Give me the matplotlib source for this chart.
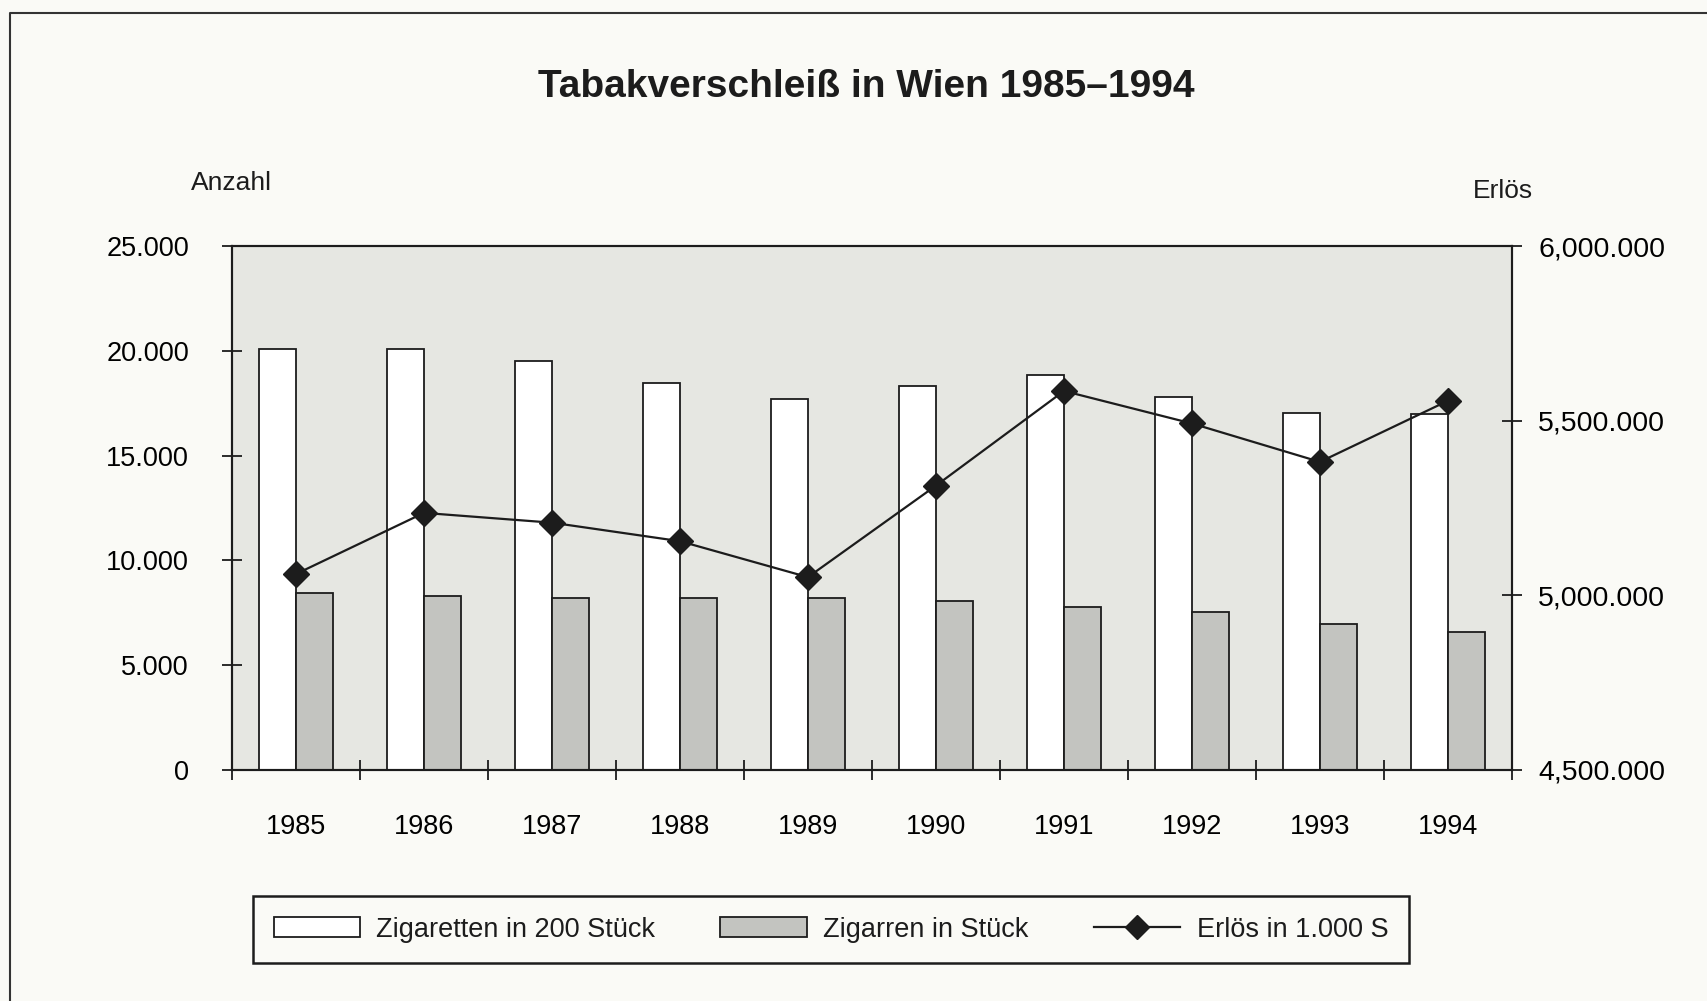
import matplotlib
matplotlib.use("Agg")
import matplotlib.pyplot as plt
import numpy as np
from matplotlib.lines import Line2D
from matplotlib.patches import Patch

# values
years = ["1985", "1986", "1987", "1988", "1989", "1990", "1991", "1992", "1993", "1994"]
zigaretten = [20100, 20100, 19500, 18450, 17700, 18300, 18850, 17800, 17050, 17000]
zigarren = [8450, 8300, 8200, 8200, 8200, 8050, 7800, 7550, 6950, 6600]
erloes = [5061000, 5236000, 5208000, 5155000, 5052000, 5314000, 5585000, 5492000, 5382000, 5557000]

left_ticks = [0, 5000, 10000, 15000, 20000, 25000]
left_labels = ["0", "5.000", "10.000", "15.000", "20.000", "25.000"]
right_ticks = [4500000, 5000000, 5500000, 6000000]
right_labels = ["4,500.000", "5,000.000", "5,500.000", "6,000.000"]

paper = "#fafaf6"
plot_bg = "#e6e7e2"
bar_grey = "#c3c4c0"
ink = "#1c1c1c"

plain = ["Liberation Sans", "DejaVu Sans"]
narrow = ["Liberation Sans Narrow", "Liberation Sans", "DejaVu Sans"]

plt.rcParams["font.family"] = plain
plt.rcParams["text.color"] = ink

fig = plt.figure(figsize=(17.08, 10.01), dpi=100, facecolor=paper)
ax = fig.add_axes([0.1358, 0.2308, 0.7494, 0.5234])
ax.set_facecolor(plot_bg)

x = np.arange(len(years))
w = 0.29
ax.bar(x - w / 2, zigaretten, width=w, color="white", edgecolor=ink, linewidth=1.3, zorder=2)
ax.bar(x + w / 2, zigarren, width=w, color=bar_grey, edgecolor=ink, linewidth=1.3, zorder=2)

ax.set_xlim(-0.5, len(years) - 0.5)
ax.set_ylim(0, 25000)
ax.set_yticks(left_ticks)
ax.set_yticklabels(left_labels, fontsize=19.5)
ax.set_xticks(x)
ax.set_xticklabels(years, fontsize=19.5)
ax.set_xticks(np.arange(len(years) + 1) - 0.5, minor=True)
ax.tick_params(axis="x", which="major", length=0, pad=32)
ax.tick_params(axis="x", which="minor", direction="inout", length=14, width=1.3, color=ink)
ax.tick_params(axis="y", direction="inout", length=14, width=1.3, color=ink, pad=24)

# second axis for the revenue line
ax2 = ax.twinx()
ax2.set_ylim(4500000, 6000000)
ax2.set_yticks(right_ticks)
ax2.set_yticklabels(right_labels, fontsize=20.5)
ax2.tick_params(axis="y", direction="inout", length=14, width=1.3, color=ink, pad=12)
ax2.plot(x, erloes, color=ink, lw=1.6, marker="D", markersize=13, zorder=3)

for a in (ax, ax2):
    for s in a.spines.values():
        s.set_linewidth(1.5)
        s.set_color(ink)

fig.text(0.507, 0.913, "Tabakverschleiß in Wien 1985–1994", ha="center", va="center",
         fontsize=28, fontweight="bold", family=narrow)
fig.text(0.1355, 0.817, "Anzahl", ha="center", va="center", fontsize=19)
fig.text(0.880, 0.809, "Erlös", ha="center", va="center", fontsize=19)

handles = [
    Patch(facecolor="white", edgecolor=ink, linewidth=1.3),
    Patch(facecolor=bar_grey, edgecolor=ink, linewidth=1.3),
    Line2D([], [], color=ink, lw=1.6, marker="D", markersize=12),
]
labels = ["Zigaretten in 200 Stück", "Zigarren in Stück", "Erlös in 1.000 S"]
leg = fig.legend(handles, labels, loc="center", bbox_to_anchor=(0.4865, 0.0714), ncol=3,
                 prop={"family": narrow, "size": 19.5}, frameon=True, fancybox=False,
                 edgecolor=ink, facecolor=paper, handlelength=3.2, handleheight=0.8,
                 handletextpad=0.6, columnspacing=2.4, borderpad=0.75)
leg.get_frame().set_linewidth(1.8)
leg.get_frame().set_alpha(1)

# page frame from the scan, runs off the right and bottom edge
fig.add_artist(Line2D([0.00585, 0.00585, 1.0], [0.0, 0.987, 0.987], color="#333333", lw=1.5))

fig.savefig("out.png", dpi=100, facecolor=paper)
